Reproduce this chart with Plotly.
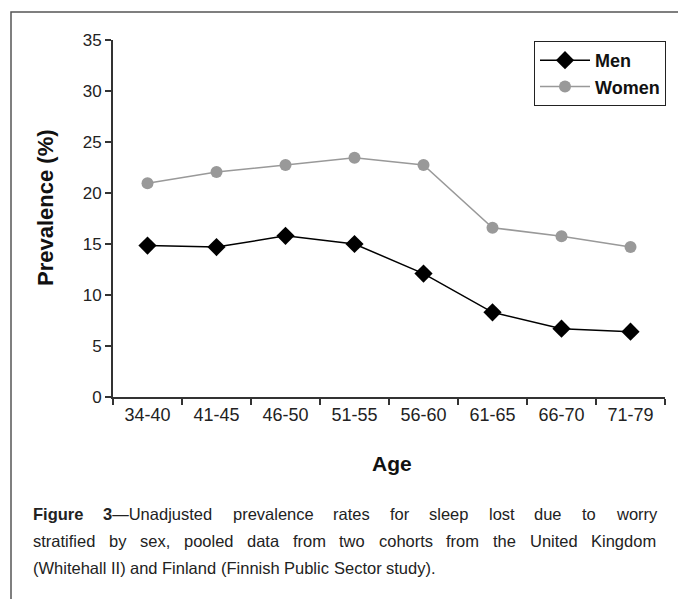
import plotly.graph_objects as go

ages = ["34-40", "41-45", "46-50", "51-55", "56-60", "61-65", "66-70", "71-79"]
men = [14.85, 14.7, 15.8, 15.0, 12.1, 8.3, 6.7, 6.4]
women = [20.95, 22.05, 22.75, 23.45, 22.75, 16.6, 15.75, 14.7]
y_ticks = [0, 5, 10, 15, 20, 25, 30, 35]

caption_lines = [
    ["<b>Figure</b>", "<b>3</b>—Unadjusted", "prevalence", "rates", "for", "sleep", "lost", "due", "to", "worry"],
    ["stratified", "by", "sex,", "pooled", "data", "from", "two", "cohorts", "from", "the", "United", "Kingdom"],
    ["(Whitehall", "II)", "and", "Finland", "(Finnish", "Public", "Sector", "study)."],
]
caption_justify = [True, True, False]

FONT = "Liberation Sans, Arial, sans-serif"

# page body has an 8px margin: work in window pixel coordinates
OFF = 8
W, H = 686 - OFF, 599 - OFF
L, R, T, B = 113, 665, 40, 397  # plot area in window coordinates


def px(x):
    return (x - L) / (R - L)


def py(y):
    return (B - y) / (B - T)


# Arial / Liberation Sans advance widths (1/1000 em)
REG = {" ": 278, "(": 333, ")": 333, ",": 278, "-": 333, ".": 278, "—": 1000,
       "A": 667, "B": 667, "C": 722, "D": 722, "E": 667, "F": 611, "G": 778, "H": 722,
       "I": 278, "J": 500, "K": 667, "L": 556, "M": 833, "N": 722, "O": 778, "P": 667,
       "Q": 778, "R": 722, "S": 667, "T": 611, "U": 722, "V": 667, "W": 944, "X": 667,
       "Y": 667, "Z": 611,
       "a": 556, "b": 556, "c": 500, "d": 556, "e": 556, "f": 278, "g": 556, "h": 556,
       "i": 222, "j": 222, "k": 500, "l": 222, "m": 833, "n": 556, "o": 556, "p": 556,
       "q": 556, "r": 333, "s": 500, "t": 278, "u": 556, "v": 500, "w": 722, "x": 500,
       "y": 500, "z": 500}
BOLD = dict(REG)
BOLD.update({"F": 611, "i": 278, "g": 611, "u": 611, "r": 389, "e": 556})
for d in "0123456789":
    REG[d] = 556
    BOLD[d] = 556


def text_width(word, size):
    w = 0.0
    bold = False
    i = 0
    while i < len(word):
        if word.startswith("<b>", i):
            bold, i = True, i + 3
            continue
        if word.startswith("</b>", i):
            bold, i = False, i + 4
            continue
        w += (BOLD if bold else REG).get(word[i], 556)
        i += 1
    return w * size / 1000.0


fig = go.Figure()
fig.add_trace(go.Scatter(
    x=ages, y=men, name="Men", mode="lines+markers",
    line=dict(color="black", width=1.5),
    marker=dict(symbol="diamond", size=14, color="black"),
))
fig.add_trace(go.Scatter(
    x=ages, y=women, name="Women", mode="lines+markers",
    line=dict(color="#999999", width=1.5),
    marker=dict(symbol="circle", size=12, color="#999999"),
))

fig.update_layout(
    width=W, height=H,
    margin=dict(l=L - OFF, r=W - (R - OFF), t=T - OFF, b=H - (B - OFF), pad=0),
    paper_bgcolor="white", plot_bgcolor="white",
    font=dict(family=FONT, size=17, color="#222222"),
    showlegend=True,
    legend=dict(
        x=px(666), y=py(41), xanchor="right", yanchor="top",
        bgcolor="white", bordercolor="#222222", borderwidth=1,
        font=dict(family=FONT, size=18, color="#111111", weight="bold"),
        itemwidth=50, tracegroupgap=0,
    ),
    xaxis=dict(
        type="category", range=[-0.5, 7.5], tickson="boundaries",
        ticks="outside", ticklen=6, tickwidth=1.5, tickcolor="#333333",
        showline=True, linecolor="#333333", linewidth=2,
        showgrid=False, zeroline=False,
        tickfont=dict(family=FONT, size=18, color="#222222"),
    ),
    yaxis=dict(
        range=[0, 35], tickvals=y_ticks, ticktext=[str(v) for v in y_ticks],
        ticks="outside", ticklen=6, tickwidth=1.5, tickcolor="#333333",
        showline=True, linecolor="#333333", linewidth=2,
        showgrid=False, zeroline=False,
        tickfont=dict(family=FONT, size=17, color="#222222"),
    ),
)

# outer frame
fig.add_shape(type="rect", xref="paper", yref="paper",
              x0=px(11), x1=px(680), y0=py(620), y1=py(12),
              line=dict(color="#555555", width=1.5), layer="below")

# axis titles
fig.add_annotation(text="<b>Prevalence (%)</b>", xref="paper", yref="paper",
                   x=px(45), y=py(208), textangle=-90, showarrow=False,
                   xanchor="center", yanchor="middle",
                   font=dict(family=FONT, size=22, color="#111111"))
fig.add_annotation(text="<b>Age</b>", xref="paper", yref="paper",
                   x=px(392), y=py(463), showarrow=False,
                   xanchor="center", yanchor="middle",
                   font=dict(family=FONT, size=21, color="#111111"))

# caption, justified word by word
CAP_SIZE = 16.5
cap_left, cap_right = 32, 655
cap_y = [514, 541, 568]
for words, yy, just in zip(caption_lines, cap_y, caption_justify):
    widths = [text_width(w, CAP_SIZE) for w in words]
    if just:
        gap = (cap_right - cap_left - sum(widths)) / (len(words) - 1)
    else:
        gap = text_width(" ", CAP_SIZE)
    x = cap_left
    for w, wd in zip(words, widths):
        fig.add_annotation(text=w, xref="paper", yref="paper",
                           x=px(x), y=py(yy), showarrow=False,
                           xanchor="left", yanchor="middle", align="left",
                           borderpad=0,
                           font=dict(family=FONT, size=CAP_SIZE, color="#222222"))
        x += wd + gap

fig.write_html("out.html")
